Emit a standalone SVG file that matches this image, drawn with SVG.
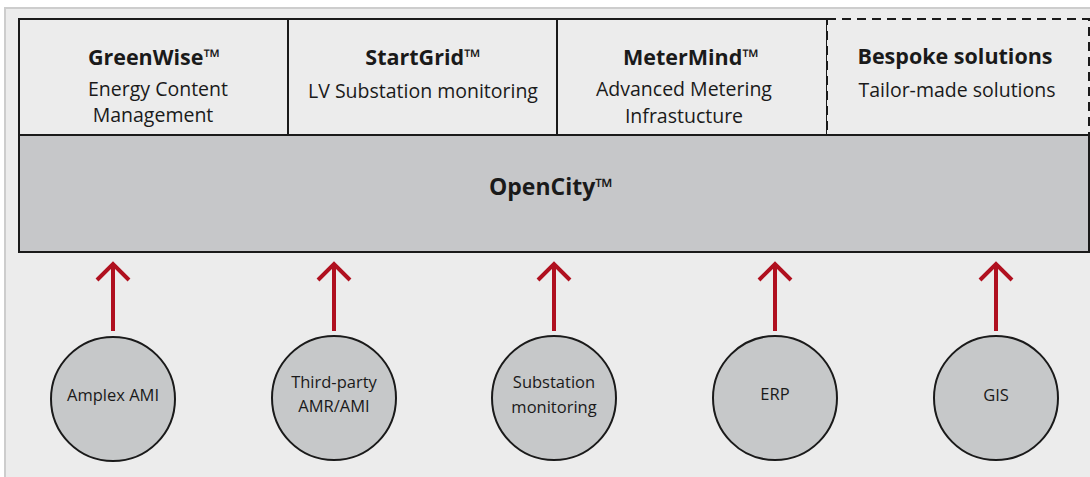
<svg xmlns="http://www.w3.org/2000/svg" width="1090" height="477" viewBox="0 0 1090 477">
<defs>
<style>
.t{font-family:"Open Sans","Noto Sans","Liberation Sans",sans-serif;fill:#1a1a1a;text-anchor:middle}
.h{font-size:21.5px;font-weight:bold}
.s{font-size:19.5px}
.c{font-size:16.5px}
.box{fill:#ececec;stroke:#1a1a1a;stroke-width:2}
.circ{fill:#c6c8c9;stroke:#1a1a1a;stroke-width:2}
.arr{fill:none;stroke:#b0101f;stroke-width:4}
</style>
</defs>
<rect x="0" y="0" width="1090" height="477" fill="#ffffff"/>
<rect x="5" y="8" width="1090" height="475" fill="#ececec" stroke="#cdcdcd" stroke-width="2"/>
<g id="greenwise">
<rect class="box" x="19" y="19" width="269" height="116"/>
<text class="t h" x="154" y="65">GreenWise™</text>
<text class="t s" x="158" y="96">Energy Content</text>
<text class="t s" x="153" y="122">Management</text>
</g>
<g id="startgrid">
<rect class="box" x="288" y="19" width="269" height="116"/>
<text class="t h" x="423" y="65">StartGrid™</text>
<text class="t s" x="423" y="98">LV Substation monitoring</text>
</g>
<g id="metermind">
<rect class="box" x="557" y="19" width="270" height="116"/>
<text class="t h" x="691" y="65">MeterMind™</text>
<text class="t s" x="684" y="96">Advanced Metering</text>
<text class="t s" x="684" y="123">Infrastucture</text>
</g>
<g id="bespoke">
<rect x="827" y="19" width="262" height="116" fill="#ececec" stroke="#1a1a1a" stroke-width="2" stroke-dasharray="9,6"/>
<text class="t h" x="955" y="64">Bespoke solutions</text>
<text class="t s" x="957" y="97">Tailor-made solutions</text>
</g>
<g id="opencity">
<rect x="19" y="135" width="1070" height="117" fill="#c6c7c9" stroke="#1a1a1a" stroke-width="2"/>
<text class="t" x="551" y="195" font-size="23" font-weight="bold">OpenCity™</text>
</g>
<g id="connectors">
<path class="arr" d="M113 331V265M97 280L113 264L129 280"/>
<path class="arr" d="M334 331V265M318 280L334 264L350 280"/>
<path class="arr" d="M554 331V265M538 280L554 264L570 280"/>
<path class="arr" d="M775 331V265M759 280L775 264L791 280"/>
<path class="arr" d="M996 331V265M980 280L996 264L1012 280"/>
</g>
<g id="amplex">
<circle class="circ" cx="113" cy="399" r="62"/>
<text class="t c" x="113" y="401">Amplex AMI</text>
</g>
<g id="thirdparty">
<circle class="circ" cx="334" cy="398" r="62"/>
<text class="t c" x="334" y="388">Third-party</text>
<text class="t c" x="334" y="412">AMR/AMI</text>
</g>
<g id="substation">
<circle class="circ" cx="554" cy="398" r="62"/>
<text class="t c" x="554" y="388">Substation</text>
<text class="t c" x="554" y="413">monitoring</text>
</g>
<g id="erp">
<circle class="circ" cx="775" cy="398" r="62"/>
<text class="t c" x="775" y="400">ERP</text>
</g>
<g id="gis">
<circle class="circ" cx="996" cy="398" r="62"/>
<text class="t c" x="996" y="401">GIS</text>
</g>
</svg>
